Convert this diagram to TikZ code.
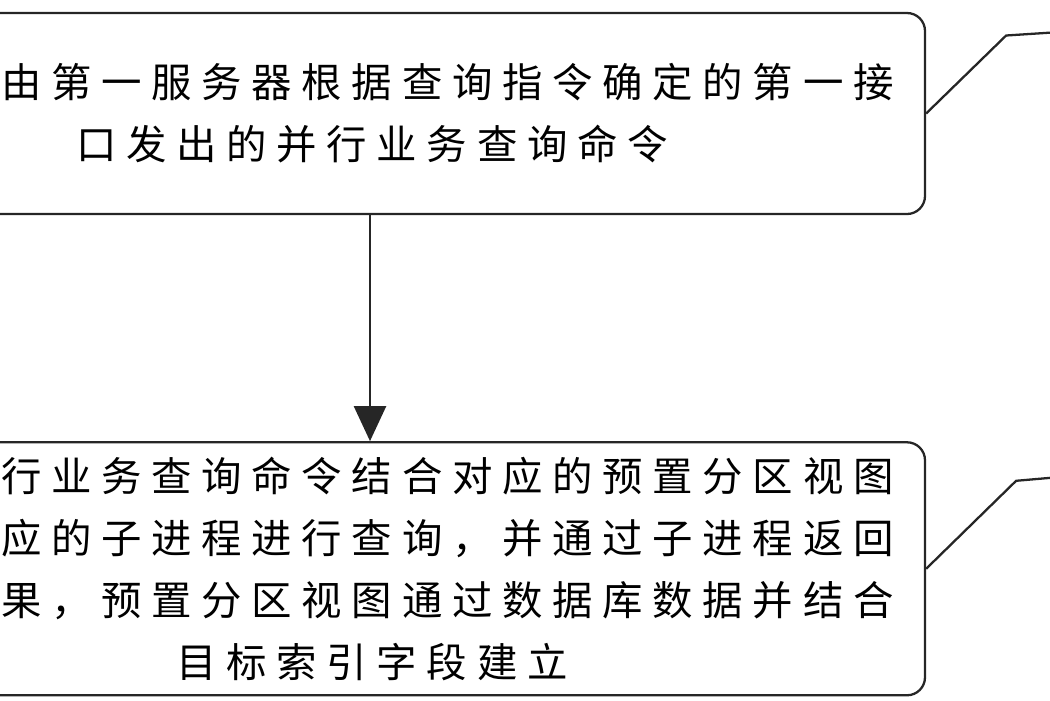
\documentclass[tikz,border=0pt]{standalone}
\usepackage{fontspec}
\newfontfamily\cjk[LetterSpace=24]{Noto Sans CJK SC}
\usetikzlibrary{positioning}
\usetikzlibrary{arrows.meta}

\begin{document}
\begin{tikzpicture}[
% Step box style
    stepbox/.style={rectangle,draw=black!85,line width=0.65pt,rounded corners=1.8mm,
		minimum width=11.06cm,align=center,inner sep=0pt,
		font=\cjk\fontsize{11.5pt}{17.6pt}\selectfont},
% Connector styles
    flow/.style={line width=0.65pt,draw=black!85,
		-{Triangle[length=3.5mm,width=3.2mm]}},
    callout/.style={line width=0.65pt,draw=black!85}
    ]
  \useasboundingbox (0,0) rectangle (10.5,7);
  \clip (0,0) rectangle (10.5,7);

  \node (s1) [stepbox,minimum height=2.01cm] at (3.72,5.865)
    {\hspace*{42.9pt}由第一服务器根据查询指令确定的第一接\\
     口发出的并行业务查询命令};
  \node (s2) [stepbox,minimum height=2.53cm,below=2.26cm of s1]
    {\hspace*{42.9pt}行业务查询命令结合对应的预置分区视图\\
     \hspace*{42.9pt}应的子进程进行查询，并通过子进程返回\\
     \hspace*{42.9pt}果，预置分区视图通过数据库数据并结合\\
     目标索引字段建立};

  \draw[flow] ([xshift=-0.2mm]s1.south) -- ([xshift=-0.2mm]s2.north);

  \coordinate (e1) at (10.6,6.68);
  \coordinate (e2) at (10.6,2.23);
  \draw[callout] (s1.east) -- ++(0.8,0.78) -- (e1);
  \draw[callout] (s2.east) -- ++(0.9,0.88) -- (e2);
\end{tikzpicture}
\end{document}
